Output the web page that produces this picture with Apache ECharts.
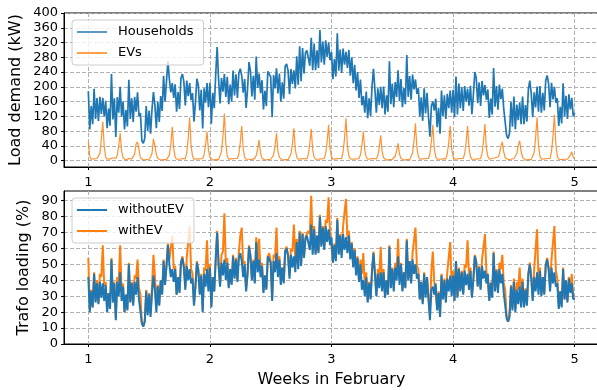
<!DOCTYPE html>
<html>
<head>
<meta charset="utf-8">
<script src="https://cdn.jsdelivr.net/npm/echarts@6/dist/echarts.min.js"></script>
<style>
  html, body { margin: 0; padding: 0; background: #fff; }
  #chart { width: 597px; height: 390px; }
</style>
</head>
<body>
<div id="chart"></div>
<script>
// time grid: one sample every 2 hours, starting at week 1
const startWeek = 1
const stepWeeks = 1 / 84

// load demand (kW), one row per day
const households = [
  188, 85, 148, 99, 195, 113, 170, 108, 173, 127, 170, 119,
  162, 88, 141, 95, 235, 112, 169, 64, 172, 130, 200, 119,
  161, 85, 137, 93, 219, 113, 169, 105, 173, 133, 185, 121,
  129, 54, 47, 61, 148, 80, 136, 73, 140, 186, 150, 88,
  160, 105, 175, 135, 230, 160, 215, 270, 220, 185, 210, 170,
  207, 133, 186, 140, 224, 235, 214, 150, 217, 175, 210, 164,
  183, 106, 158, 222, 205, 136, 192, 87, 196, 157, 210, 145,
  211, 100, 184, 142, 233, 308, 220, 155, 224, 187, 235, 173,
  227, 153, 206, 160, 244, 177, 234, 170, 237, 249, 230, 184,
  221, 143, 194, 267, 243, 174, 230, 165, 282, 197, 236, 183,
  218, 139, 189, 148, 242, 244, 227, 118, 232, 196, 250, 182,
  236, 160, 212, 168, 256, 262, 244, 180, 248, 208, 245, 196,
  283, 206, 310, 215, 305, 236, 292, 299, 296, 257, 333, 245,
  317, 245, 299, 251, 354, 266, 323, 260, 326, 281, 320, 272,
  294, 221, 275, 228, 345, 244, 301, 238, 304, 260, 295, 251,
  300, 230, 280, 210, 260, 190, 240, 170, 220, 150, 175, 130,
  187, 115, 169, 121, 202, 249, 193, 130, 196, 151, 200, 142,
  201, 125, 177, 133, 269, 153, 209, 145, 213, 173, 245, 161,
  221, 145, 197, 153, 286, 173, 229, 165, 233, 193, 220, 181,
  196, 120, 172, 108, 196, 128, 184, 120, 65, 148, 160, 136,
  168, 91, 143, 73, 190, 121, 177, 113, 181, 142, 190, 130,
  192, 118, 228, 125, 209, 142, 199, 135, 202, 160, 195, 149,
  203, 126, 178, 240, 225, 156, 212, 148, 216, 177, 205, 165,
  193, 116, 168, 125, 251, 146, 202, 138, 206, 167, 195, 140,
  142, 68, 60, 75, 159, 92, 174, 85, 152, 110, 158, 99,
  174, 99, 151, 106, 193, 217, 181, 118, 185, 144, 201, 133,
  202, 130, 184, 136, 217, 231, 208, 145, 211, 166, 200, 157,
  169, 94, 146, 101, 210, 120, 176, 113, 180, 139, 170, 120,
  130
]

const evs = [
  51, 12, 4, 2, 5, 3, 6, 4, 20, 58, 106, 38,
  10, 4, 2, 5, 3, 8, 4, 6, 15, 40, 74, 26,
  8, 3, 2, 4, 6, 3, 5, 8, 18, 45, 51, 30,
  8, 4, 2, 5, 3, 6, 4, 10, 20, 59, 40, 18,
  6, 3, 2, 4, 3, 5, 3, 5, 15, 45, 92, 34,
  10, 4, 2, 4, 3, 6, 3, 5, 22, 60, 117, 40,
  12, 4, 2, 5, 3, 5, 4, 6, 16, 42, 79, 28,
  9, 4, 2, 4, 3, 5, 3, 6, 25, 66, 128, 45,
  12, 4, 2, 5, 3, 6, 4, 6, 18, 50, 94, 33,
  10, 4, 2, 4, 6, 3, 5, 7, 14, 32, 56, 20,
  7, 3, 2, 5, 3, 6, 4, 5, 15, 40, 74, 26,
  9, 4, 2, 4, 3, 5, 3, 6, 18, 46, 88, 30,
  10, 4, 2, 5, 3, 6, 4, 5, 17, 45, 86, 30,
  10, 4, 2, 4, 3, 5, 4, 6, 20, 52, 97, 34,
  11, 4, 2, 5, 3, 6, 3, 6, 23, 60, 115, 40,
  13, 5, 2, 4, 3, 5, 4, 6, 16, 42, 79, 28,
  10, 4, 2, 5, 3, 6, 4, 5, 14, 36, 69, 24,
  8, 3, 2, 4, 3, 5, 4, 6, 12, 28, 47, 18,
  6, 3, 2, 4, 3, 5, 3, 5, 20, 54, 101, 35,
  12, 4, 2, 5, 3, 6, 4, 6, 19, 52, 97, 34,
  11, 4, 2, 4, 3, 5, 3, 5, 19, 50, 94, 33,
  11, 4, 2, 5, 3, 6, 4, 6, 19, 50, 94, 33,
  11, 4, 2, 4, 3, 5, 3, 6, 20, 53, 99, 35,
  12, 4, 3, 6, 4, 8, 5, 10, 18, 38, 51, 24,
  8, 4, 3, 6, 4, 8, 6, 12, 20, 40, 54, 25,
  9, 4, 2, 4, 3, 5, 3, 6, 23, 62, 117, 41,
  12, 4, 2, 5, 3, 6, 4, 6, 25, 66, 125, 44,
  12, 4, 2, 3, 2, 4, 3, 4, 8, 15, 24, 10,
  4
]

// trafo loading (%)
const withoutEV = [
  42, 20, 33, 23, 44, 26, 38, 25, 39, 29, 38, 27,
  37, 20, 32, 22, 53, 26, 38, 15, 39, 30, 45, 27,
  36, 20, 31, 21, 50, 26, 38, 24, 39, 31, 42, 28,
  29, 13, 11, 14, 33, 18, 31, 17, 32, 43, 34, 20,
  36, 24, 40, 31, 52, 37, 49, 62, 50, 42, 47, 39,
  47, 31, 42, 32, 51, 54, 48, 34, 49, 40, 47, 38,
  41, 24, 36, 51, 46, 31, 43, 20, 44, 36, 47, 33,
  48, 23, 42, 33, 53, 70, 50, 36, 51, 43, 53, 40,
  51, 35, 47, 37, 55, 41, 53, 39, 54, 57, 52, 42,
  50, 33, 44, 61, 55, 40, 52, 38, 64, 45, 53, 42,
  49, 32, 43, 34, 55, 56, 51, 27, 52, 45, 57, 42,
  53, 37, 48, 38, 58, 60, 55, 41, 56, 48, 55, 45,
  64, 47, 70, 49, 69, 54, 66, 68, 67, 59, 75, 56,
  72, 56, 68, 57, 80, 61, 73, 59, 74, 64, 72, 62,
  67, 51, 62, 52, 78, 56, 68, 54, 69, 59, 67, 57,
  68, 53, 63, 48, 59, 43, 54, 39, 50, 34, 40, 30,
  42, 26, 38, 28, 46, 57, 44, 30, 44, 35, 45, 33,
  45, 29, 40, 31, 61, 35, 47, 33, 48, 40, 55, 37,
  50, 33, 45, 35, 65, 40, 52, 38, 53, 44, 50, 41,
  44, 28, 39, 25, 44, 29, 42, 28, 15, 34, 36, 31,
  38, 21, 32, 17, 43, 28, 40, 26, 41, 33, 43, 30,
  43, 27, 52, 29, 47, 33, 45, 31, 46, 37, 44, 34,
  46, 29, 40, 55, 51, 36, 48, 34, 49, 41, 46, 38,
  44, 27, 38, 29, 57, 33, 46, 32, 47, 38, 44, 32,
  32, 16, 14, 17, 36, 21, 39, 20, 34, 25, 36, 23,
  39, 23, 34, 24, 44, 50, 41, 27, 42, 33, 45, 31,
  46, 30, 42, 31, 49, 53, 47, 33, 48, 38, 45, 36,
  38, 22, 33, 23, 47, 28, 40, 26, 41, 32, 38, 28,
  29
]

const withEV = [
  54, 22, 34, 23, 45, 27, 40, 26, 44, 42, 62, 36,
  39, 21, 32, 23, 54, 28, 39, 16, 42, 39, 62, 33,
  38, 20, 31, 22, 51, 27, 39, 26, 43, 41, 53, 35,
  31, 13, 11, 15, 34, 20, 32, 19, 36, 56, 43, 24,
  37, 25, 40, 32, 53, 38, 49, 63, 53, 53, 68, 47,
  49, 31, 42, 33, 51, 55, 49, 36, 54, 54, 74, 47,
  44, 25, 36, 52, 47, 32, 44, 21, 48, 46, 65, 40,
  50, 24, 42, 33, 53, 71, 50, 37, 56, 58, 82, 50,
  54, 36, 47, 38, 56, 42, 54, 40, 58, 68, 73, 50,
  52, 34, 44, 62, 56, 41, 53, 39, 67, 52, 66, 46,
  51, 33, 43, 35, 55, 57, 52, 28, 56, 54, 73, 48,
  55, 38, 48, 39, 59, 61, 56, 43, 60, 58, 75, 52,
  66, 48, 71, 50, 70, 55, 67, 69, 71, 69, 93, 63,
  74, 57, 68, 58, 81, 62, 74, 61, 78, 76, 92, 70,
  69, 51, 63, 53, 79, 57, 69, 56, 74, 73, 91, 66,
  71, 54, 64, 49, 60, 45, 55, 40, 53, 44, 57, 36,
  45, 27, 39, 29, 46, 58, 45, 31, 47, 43, 61, 38,
  47, 29, 40, 31, 62, 36, 48, 35, 51, 46, 66, 41,
  51, 34, 45, 36, 66, 41, 52, 39, 57, 56, 73, 49,
  47, 28, 39, 26, 45, 31, 42, 29, 19, 46, 58, 39,
  40, 22, 33, 18, 44, 29, 41, 27, 45, 44, 64, 37,
  46, 28, 52, 30, 48, 34, 46, 32, 50, 48, 65, 42,
  48, 30, 41, 56, 52, 37, 49, 35, 53, 53, 69, 46,
  46, 28, 39, 30, 58, 35, 47, 34, 51, 47, 56, 38,
  34, 17, 14, 19, 37, 23, 41, 22, 39, 34, 48, 28,
  41, 24, 35, 25, 44, 51, 42, 28, 47, 47, 72, 40,
  48, 31, 42, 32, 50, 54, 48, 35, 53, 53, 74, 46,
  41, 23, 33, 24, 48, 28, 40, 27, 42, 35, 44, 30,
  30
]

const weekTicks = [1, 2, 3, 4, 5]
const loadTicks = [0, 40, 80, 120, 160, 200, 240, 280, 320, 360, 400]
const trafoTicks = [0, 10, 20, 30, 40, 50, 60, 70, 80, 90]

const BLUE = '#1f77b4'
const ORANGE = '#ff7f0e'
const FONT = 'DejaVu Sans'

function toPoints(vals) {
  return vals.map((v, i) => [startWeek + i * stepWeeks, v])
}

function xAxisCfg(gridIndex, name) {
  return {
    type: 'value',
    gridIndex,
    min: 0.8,
    max: 5.2,
    name,
    nameLocation: 'middle',
    nameGap: 28,
    nameMoveOverlap: false,
    nameTextStyle: { fontSize: 16, fontFamily: FONT, color: '#000' },
    axisLine: { show: true, onZero: false, lineStyle: { color: '#000', width: 1 } },
    axisTick: { show: true, customValues: weekTicks, length: 3, lineStyle: { color: '#000' } },
    axisLabel: { customValues: weekTicks, fontSize: 13, fontFamily: FONT, color: '#000', margin: 9 },
    splitLine: { show: true, lineStyle: { type: [4, 2], color: '#b0b0b0', width: 1 } }
  }
}

function yAxisCfg(gridIndex, name, min, max, ticks, gap) {
  return {
    type: 'value',
    gridIndex,
    min,
    max,
    name,
    nameLocation: 'middle',
    nameGap: gap,
    nameMoveOverlap: false,
    nameTextStyle: { fontSize: 16, fontFamily: FONT, color: '#000' },
    axisLine: { show: true, onZero: false, lineStyle: { color: '#000', width: 1 } },
    axisTick: { show: true, customValues: ticks, length: 3, lineStyle: { color: '#000' } },
    axisLabel: { customValues: ticks, fontSize: 13, fontFamily: FONT, color: '#000', margin: 6 },
    splitLine: { show: true, lineStyle: { type: [4, 2], color: '#b0b0b0', width: 1 } }
  }
}

function legendCfg(top, names, iconH) {
  return {
    data: names,
    orient: 'vertical',
    left: 72,
    top,
    icon: 'rect',
    itemWidth: 30,
    itemHeight: iconH,
    itemGap: 5,
    padding: [4, 10, 4, 5],
    backgroundColor: 'rgba(255,255,255,0.8)',
    borderColor: '#cccccc',
    borderWidth: 1,
    borderRadius: 3,
    textStyle: { fontSize: 13, fontFamily: FONT, color: '#000', lineHeight: 16, padding: [0, 0, 0, 6] }
  }
}

const chart = echarts.init(document.getElementById('chart'), null, { renderer: 'canvas' })
chart.setOption({
  animation: false,
  backgroundColor: '#fff',
  grid: [
    { left: 64, width: 535, top: 13, height: 154, outerBoundsMode: 'none', containLabel: false, show: true, borderColor: '#000', borderWidth: 1, backgroundColor: 'transparent' },
    { left: 64, width: 535, top: 191, height: 153, outerBoundsMode: 'none', containLabel: false, show: true, borderColor: '#000', borderWidth: 1, backgroundColor: 'transparent' }
  ],
  xAxis: [xAxisCfg(0, ''), xAxisCfg(1, 'Weeks in February')],
  yAxis: [
    yAxisCfg(0, 'Load demand (kW)', -17, 400, loadTicks, 40),
    yAxisCfg(1, 'Trafo loading (%)', 0, 96, trafoTicks, 32)
  ],
  legend: [
    legendCfg(20, ['Households', 'EVs'], 1.5),
    legendCfg(198, ['withoutEV', 'withEV'], 2)
  ],
  series: [
    {
      name: 'Households', type: 'line', xAxisIndex: 0, yAxisIndex: 0,
      data: toPoints(households), showSymbol: false, symbol: 'none',
      lineStyle: { color: BLUE, width: 1.7 }, itemStyle: { color: BLUE }
    },
    {
      name: 'EVs', type: 'line', xAxisIndex: 0, yAxisIndex: 0,
      data: toPoints(evs), showSymbol: false, symbol: 'none',
      lineStyle: { color: ORANGE, width: 1.2, opacity: 0.85 }, itemStyle: { color: ORANGE }
    },
    {
      name: 'withEV', type: 'line', xAxisIndex: 1, yAxisIndex: 1,
      data: toPoints(withEV), showSymbol: false, symbol: 'none',
      lineStyle: { color: ORANGE, width: 2 }, itemStyle: { color: ORANGE }
    },
    {
      name: 'withoutEV', type: 'line', xAxisIndex: 1, yAxisIndex: 1,
      data: toPoints(withoutEV), showSymbol: false, symbol: 'none',
      lineStyle: { color: BLUE, width: 2 }, itemStyle: { color: BLUE }
    }
  ]
})
</script>
</body>
</html>
